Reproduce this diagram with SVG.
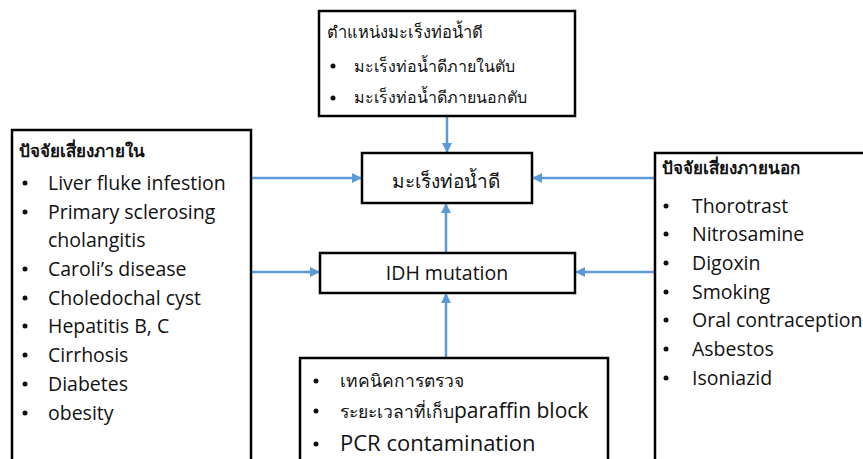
<svg xmlns="http://www.w3.org/2000/svg" width="863" height="459" viewBox="0 0 863 459">
<style>
.box{fill:#fff;stroke:#000;stroke-width:2.5}
.t{font-family:"Open Sans","Liberation Sans","Noto Sans",sans-serif;fill:#111}
.en{font-size:19.5px}
.th{font-size:16px}
.hd{font-size:17px;font-weight:bold}
.c{stroke:#5B9BD5;stroke-width:2.5;fill:none;marker-end:url(#ah)}
</style>
<defs>
<marker id="ah" markerWidth="10" markerHeight="10" refX="9" refY="5" orient="auto" markerUnits="userSpaceOnUse">
<path d="M0,0 L10,5 L0,10 z" fill="#5B9BD5"/>
</marker>
</defs>
<rect width="863" height="459" fill="#fff"/>
<g id="connectors">
<line class="c" x1="447" y1="117" x2="447" y2="152"/>
<line class="c" x1="446" y1="253" x2="446" y2="204"/>
<line class="c" x1="446" y1="358" x2="446" y2="294"/>
<line class="c" x1="252" y1="178" x2="361" y2="178"/>
<line class="c" x1="252" y1="272" x2="319" y2="272"/>
<line class="c" x1="655" y1="178" x2="533" y2="178"/>
<line class="c" x1="655" y1="272" x2="576" y2="272"/>
</g>
<g id="location">
<rect class="box" x="319" y="11" width="256" height="105"/>
<text class="t" x="327" y="38" font-size="16.5">ตำแหน่งมะเร็งท่อน้ำดี</text>
<circle cx="333" cy="66" r="2.5" fill="#111"/>
<text class="t th" x="354" y="72">มะเร็งท่อน้ำดีภายในตับ</text>
<circle cx="333" cy="98" r="2.5" fill="#111"/>
<text class="t th" x="354" y="103">มะเร็งท่อน้ำดีภายนอกตับ</text>
</g>
<g id="cholangiocarcinoma">
<rect class="box" x="362" y="153" width="170" height="50"/>
<text class="t" x="446" y="188" font-size="19" font-weight="300" text-anchor="middle" fill="#333">มะเร็งท่อน้ำดี</text>
</g>
<g id="idh">
<rect class="box" x="320" y="253" width="255" height="40"/>
<text class="t en" x="447" y="280" text-anchor="middle">IDH mutation</text>
</g>
<g id="internal">
<rect class="box" x="12" y="130" width="239" height="340"/>
<text class="t hd" x="19" y="157">ปัจจัยเสี่ยงภายใน</text>
<g class="t en">
<text x="48" y="190">Liver fluke infestion</text>
<text x="48" y="219">Primary sclerosing</text>
<text x="48" y="247">cholangitis</text>
<text x="48" y="276">Caroli’s disease</text>
<text x="48" y="305">Choledochal cyst</text>
<text x="48" y="333">Hepatitis B, C</text>
<text x="48" y="362">Cirrhosis</text>
<text x="48" y="391">Diabetes</text>
<text x="48" y="420">obesity</text>
</g>
<g fill="#111">
<circle cx="25" cy="183" r="2.5"/><circle cx="25" cy="212" r="2.5"/>
<circle cx="25" cy="269" r="2.5"/><circle cx="25" cy="298" r="2.5"/>
<circle cx="25" cy="326" r="2.5"/><circle cx="25" cy="355" r="2.5"/>
<circle cx="25" cy="384" r="2.5"/><circle cx="25" cy="413" r="2.5"/>
</g>
</g>
<g id="external">
<rect class="box" x="655" y="153" width="220" height="320"/>
<text class="t hd" x="662" y="174">ปัจจัยเสี่ยงภายนอก</text>
<g class="t en">
<text x="692" y="213">Thorotrast</text>
<text x="692" y="241">Nitrosamine</text>
<text x="692" y="270">Digoxin</text>
<text x="692" y="299">Smoking</text>
<text x="692" y="327">Oral contraception</text>
<text x="692" y="356">Asbestos</text>
<text x="692" y="385">Isoniazid</text>
</g>
<g fill="#111">
<circle cx="666" cy="206" r="2.5"/><circle cx="666" cy="234" r="2.5"/>
<circle cx="666" cy="263" r="2.5"/><circle cx="666" cy="292" r="2.5"/>
<circle cx="666" cy="320" r="2.5"/><circle cx="666" cy="349" r="2.5"/>
<circle cx="666" cy="378" r="2.5"/>
</g>
</g>
<g id="technique">
<rect class="box" x="300" y="358" width="308" height="120"/>
<circle cx="316" cy="381" r="2.5" fill="#111"/>
<text class="t" x="340" y="387" font-size="17.5">เทคนิคการตรวจ</text>
<circle cx="316" cy="411" r="2.5" fill="#111"/>
<text class="t" x="340" y="418"><tspan font-size="17.5">ระยะเวลาที่เก็บ</tspan><tspan font-size="21">paraffin block</tspan></text>
<circle cx="316" cy="444" r="2.5" fill="#111"/>
<text class="t" x="340" y="451" font-size="22">PCR contamination</text>
</g>
</svg>
